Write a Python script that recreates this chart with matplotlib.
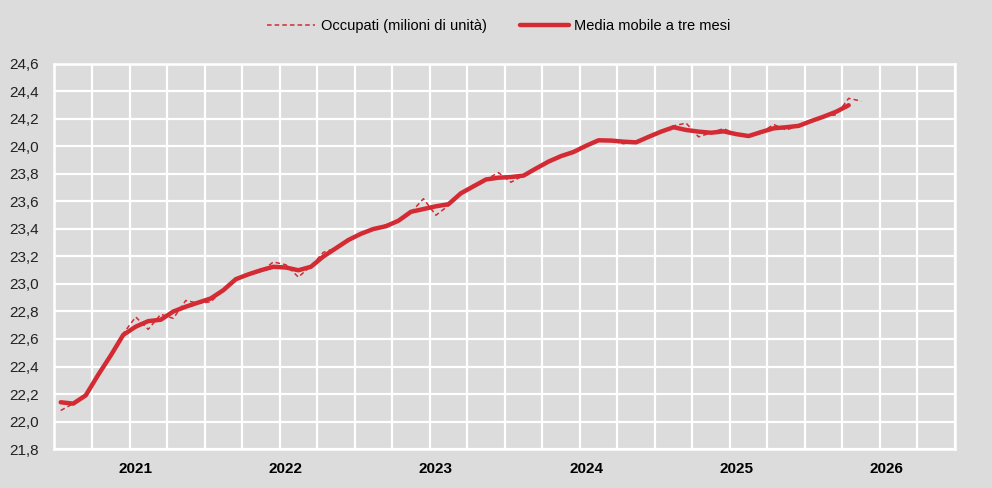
import numpy as np
import pandas as pd
import matplotlib.pyplot as plt
from matplotlib.ticker import FuncFormatter

# monthly categories, Jul 2020 - Jun 2026
months = pd.date_range("2020-07-01", periods=72, freq="MS")
year_labels = ["2021", "2022", "2023", "2024", "2025", "2026"]

# Occupati (milioni di unità), monthly from Jul 2020
occupati = [
    22.08, 22.13, 22.20, 22.33, 22.49, 22.64, 22.76, 22.67, 22.78, 22.75,
    22.88, 22.86, 22.87, 22.96, 23.04, 23.07, 23.09, 23.16, 23.14, 23.05,
    23.13, 23.23, 23.26, 23.32, 23.37, 23.40, 23.43, 23.46, 23.52, 23.62,
    23.50, 23.57, 23.66, 23.72, 23.76, 23.81, 23.74, 23.79, 23.84, 23.89,
    23.93, 23.96, 24.01, 24.05, 24.04, 24.02, 24.04, 24.07, 24.11, 24.15,
    24.17, 24.07, 24.10, 24.13, 24.09, 24.07, 24.10, 24.16, 24.12, 24.15,
    24.19, 24.22, 24.23, 24.35, 24.33,
]

# Media mobile a tre mesi
media_mobile = [
    22.14, 22.13, 22.19, 22.34, 22.48, 22.63, 22.69, 22.73, 22.74, 22.80,
    22.835, 22.865, 22.895, 22.955, 23.035, 23.07, 23.10, 23.125, 23.12, 23.10,
    23.125, 23.20, 23.26, 23.32, 23.365, 23.40, 23.42, 23.46, 23.525, 23.545,
    23.565, 23.58, 23.66, 23.71, 23.76, 23.773, 23.778, 23.788, 23.84, 23.89,
    23.93, 23.96, 24.005, 24.045, 24.043, 24.035, 24.03, 24.07, 24.108, 24.14,
    24.12, 24.108, 24.10, 24.11, 24.09, 24.076, 24.105, 24.132, 24.14, 24.15,
    24.185, 24.217, 24.253, 24.30,
]

bg = "#dcdcdc"
red = "#d42a33"

plt.rcParams["font.family"] = ["Liberation Sans", "DejaVu Sans"]

fig = plt.figure(figsize=(9.92, 4.88), dpi=100, facecolor=bg)
ax = fig.add_axes([0.0549, 0.0799, 0.9078, 0.789])
ax.set_facecolor(bg)

x_occ = np.arange(len(occupati)) + 0.5
x_mm = np.arange(len(media_mobile)) + 0.5
ax.plot(x_occ, occupati, color=red, lw=1.1, ls=(0, (3, 2)),
        label="Occupati (milioni di unità)", zorder=3)
ax.plot(x_mm, media_mobile, color=red, lw=3.2, solid_capstyle="round",
        label="Media mobile a tre mesi", zorder=4)

ax.set_xlim(0, len(months))
ax.set_ylim(21.8, 24.6)
ax.set_yticks(np.arange(21.8, 24.61, 0.2))
ax.yaxis.set_major_formatter(FuncFormatter(lambda v, p: f"{v:.1f}".replace(".", ",")))

# quarterly gridlines, year labels under January
ax.set_xticks(np.arange(0, len(months) + 1, 3))
ax.set_xticklabels([])
jan_pos = [i + 0.5 for i, m in enumerate(months) if m.month == 1]
for pos, lab in zip(jan_pos, year_labels):
    ax.text(pos, -0.035, lab, transform=ax.get_xaxis_transform(), ha="center",
            va="top", fontsize=11, fontweight="bold", color="black")

ax.grid(True, color="white", lw=1.6)
ax.set_axisbelow(True)
for s in ax.spines.values():
    s.set_color("white")
    s.set_linewidth(1.8)
ax.tick_params(length=0, labelsize=11, labelcolor="#222222", pad=11)

fig.legend(loc="center", bbox_to_anchor=(0.503, 0.947), ncol=2, frameon=False,
           fontsize=10.5, handlelength=3.3, handletextpad=0.4, columnspacing=2.3)

fig.savefig("out.png", dpi=100, facecolor=bg)
